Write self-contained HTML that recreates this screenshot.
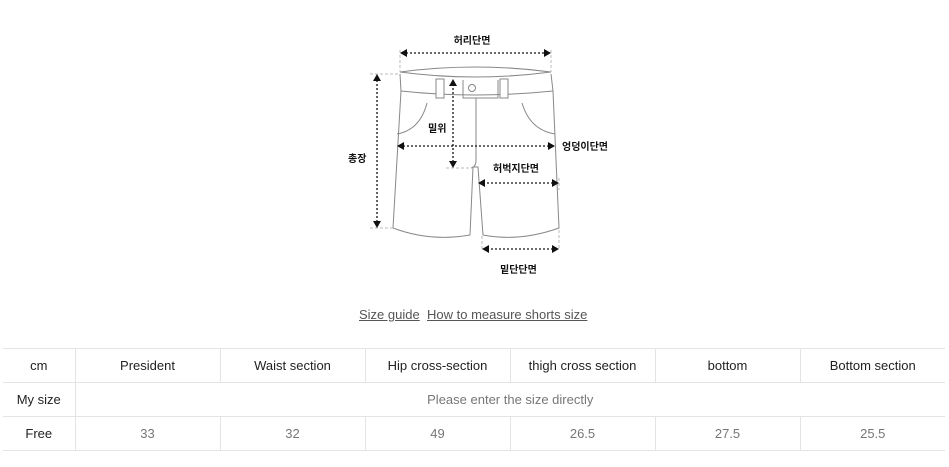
<!DOCTYPE html>
<html><head><meta charset="utf-8"><style>
body{margin:0;background:#fff;width:949px;height:467px;overflow:hidden;font-family:"Liberation Sans","Noto Sans CJK KR",sans-serif}
.lnk{position:absolute;top:307px;font-size:13px;color:#555;text-decoration:underline}
table{position:absolute;left:3px;top:348px;border-collapse:collapse;width:942px;font-size:13px;table-layout:fixed}
td{border:1px solid #e4e4e4;height:33px;text-align:center;color:#222;padding:0}
td.v{color:#777}
tr>td:first-child{border-left:none}
tr>td:last-child{border-right:none}
</style></head><body>
<svg width="949" height="300" style="position:absolute;left:0;top:0" font-family="Liberation Sans, Noto Sans CJK KR, sans-serif">
<g fill="none" stroke="#888" stroke-width="1">
<path d="M400,72 Q475,62 551,72 Q475,82 400,72 Z" fill="#fff"/>
<path d="M400,74 L401,91 Q475,99 553,91 L551,74"/>
<path d="M401,91 L393,228 Q430,242 470,235 L473,167 L478,167 L483,235 Q520,242 559,228 L553,91"/>
<rect x="436" y="79" width="8" height="19" fill="#fff"/>
<rect x="500" y="79" width="8" height="19" fill="#fff"/>
<path d="M463,80 L463,98 L498,98 L498,80"/>
<circle cx="472" cy="88" r="3.5"/>
<path d="M476,98 L476,160 Q476,167 471,168"/>
<path d="M397,134 Q420,130 427,103"/>
<path d="M555,134 Q530,130 522,103"/>
</g>
<g stroke="#bbb" stroke-dasharray="3,2" fill="none">
<path d="M400,50 L400,72 M551,50 L551,72 M370,74 L400,74 M370,228 L393,228 M446,168 L470,168 M482,236 L482,250 M559,230 L559,250 M559,178 L559,190"/>
</g>
<g stroke="#111" stroke-dasharray="2,2" stroke-width="1.3" fill="none">
<path d="M406,53 L545,53"/>
<path d="M377,80 L377,222"/>
<path d="M453,84 L453,162"/>
<path d="M403,146 L549,146"/>
<path d="M483,183 L553,183"/>
<path d="M487,249 L553,249"/>
</g>
<g fill="#111">
<path d="M400,53 l7,-4 v8z M551,53 l-7,-4 v8z"/>
<path d="M377,74 l-4,7 h8z M377,228 l-4,-7 h8z"/>
<path d="M453,79 l-4,7 h8z M453,168 l-4,-7 h8z"/>
<path d="M397,146 l7,-4 v8z M555,146 l-7,-4 v8z"/>
<path d="M478,183 l7,-4 v8z M559,183 l-7,-4 v8z"/>
<path d="M482,249 l7,-4 v8z M559,249 l-7,-4 v8z"/>
</g>
<g font-size="10" font-weight="bold" fill="#111">
<text x="472" y="44" text-anchor="middle">허리단면</text>
<text x="348" y="162">총장</text>
<text x="428" y="132">밀위</text>
<text x="562" y="150">엉덩이단면</text>
<text x="493" y="172">허벅지단면</text>
<text x="500" y="273">밑단단면</text>
</g>
</svg>
<span class="lnk" style="left:359px">Size guide</span>
<span class="lnk" style="left:427px">How to measure shorts size</span>
<table>
<colgroup><col style="width:72px"><col style="width:145px"><col style="width:145px"><col style="width:145px"><col style="width:145px"><col style="width:145px"><col style="width:145px"></colgroup>
<tr><td>cm</td><td>President</td><td>Waist section</td><td>Hip cross-section</td><td>thigh cross section</td><td>bottom</td><td>Bottom section</td></tr>
<tr><td>My size</td><td colspan="6" class="v">Please enter the size directly</td></tr>
<tr><td>Free</td><td class="v">33</td><td class="v">32</td><td class="v">49</td><td class="v">26.5</td><td class="v">27.5</td><td class="v">25.5</td></tr>
</table>
</body></html>
